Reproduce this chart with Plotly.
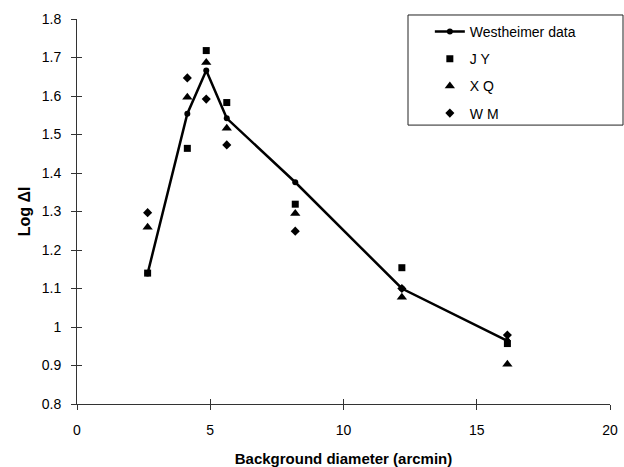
import plotly.graph_objects as go

diam = [2.65, 4.14, 4.85, 5.62, 8.19, 12.19, 16.15]
westheimer = [1.139, 1.554, 1.666, 1.542, 1.376, 1.100, 0.964]
jy = [1.140, 1.464, 1.718, 1.583, 1.319, 1.154, 0.957]
xq = [1.259, 1.597, 1.687, 1.516, 1.295, 1.077, 0.903]
wm = [1.297, 1.647, 1.592, 1.473, 1.249, 1.100, 0.979]

ytickvals = [0.8, 0.9, 1.0, 1.1, 1.2, 1.3, 1.4, 1.5, 1.6, 1.7, 1.8]
yticktext = ["0.8", "0.9", "1", "1.1", "1.2", "1.3", "1.4", "1.5", "1.6", "1.7", "1.8"]
xtickvals = [0, 5, 10, 15, 20]
xticktext = ["0", "5", "10", "15", "20"]

FONT = "Liberation Sans, Arial, sans-serif"

fig = go.Figure()
fig.add_trace(go.Scatter(x=diam, y=westheimer, mode="lines+markers", name="Westheimer data",
                         legendgroup="w",
                         line=dict(color="black", width=2.5),
                         marker=dict(symbol="circle", size=6, color="black")))
fig.add_trace(go.Scatter(x=diam, y=jy, mode="markers", name="J Y", legendgroup="jy",
                         marker=dict(symbol="square", size=7, color="black")))
fig.add_trace(go.Scatter(x=diam, y=xq, mode="markers", name="X Q", legendgroup="xq",
                         marker=dict(symbol="triangle-up", size=9, color="black")))
fig.add_trace(go.Scatter(x=diam, y=wm, mode="markers", name="W M", legendgroup="wm",
                         marker=dict(symbol="diamond", size=7, color="black")))
# invisible trace hosting the overlay axes (inside tick halves)
fig.add_trace(go.Scatter(x=[diam[0]], y=[westheimer[0]], xaxis="x2", yaxis="y2",
                         mode="markers", marker=dict(opacity=0), showlegend=False, hoverinfo="skip"))

fig.update_layout(
    width=624, height=467,
    margin=dict(l=77, r=14, t=19, b=63, autoexpand=False),
    paper_bgcolor="white", plot_bgcolor="white",
    font=dict(family=FONT, size=14, color="black"),
    showlegend=True,
    legend=dict(x=0.662, y=1.008, xanchor="left", yanchor="top",
                borderwidth=0, bgcolor="rgba(0,0,0,0)",
                font=dict(family=FONT, size=14, color="black"),
                tracegroupgap=6, itemwidth=30),
    shapes=[dict(type="rect", xref="paper", yref="paper",
                 x0=(408 - 77) / 533, x1=(623 - 77) / 533,
                 y0=(403.7 - 125) / 384.7, y1=(403.7 - 15) / 384.7,
                 line=dict(color="#222", width=1), fillcolor="white", layer="above")],
    xaxis=dict(range=[0, 20], tickvals=xtickvals, ticktext=xticktext, automargin=False,
               showgrid=False, zeroline=False, showline=True, linecolor="#333", linewidth=1,
               ticks="outside", ticklen=5, tickcolor="#333", ticklabelstandoff=8,
               title=dict(text="<b>Background diameter (arcmin)</b>", font=dict(size=15), standoff=16)),
    yaxis=dict(range=[0.8, 1.8], tickvals=ytickvals, ticktext=yticktext, automargin=False,
               showgrid=False, zeroline=False, showline=True, linecolor="#333", linewidth=1,
               ticks="outside", ticklen=5, tickcolor="#333", ticklabelstandoff=7,
               title=dict(text="<b>Log ΔI</b>", font=dict(size=16), standoff=7)),
    xaxis2=dict(overlaying="x", matches="x", range=[0, 20], tickvals=xtickvals,
                showticklabels=False, showgrid=False, zeroline=False, showline=False,
                ticks="inside", ticklen=5, tickcolor="#333", anchor="y2", side="bottom"),
    yaxis2=dict(overlaying="y", matches="y", range=[0.8, 1.8], tickvals=ytickvals,
                showticklabels=False, showgrid=False, zeroline=False, showline=False,
                ticks="inside", ticklen=5, tickcolor="#333", anchor="x2", side="left"),
)

fig.write_html("out.html", config={"displayModeBar": False},
               post_script="document.body.style.margin='0';")
